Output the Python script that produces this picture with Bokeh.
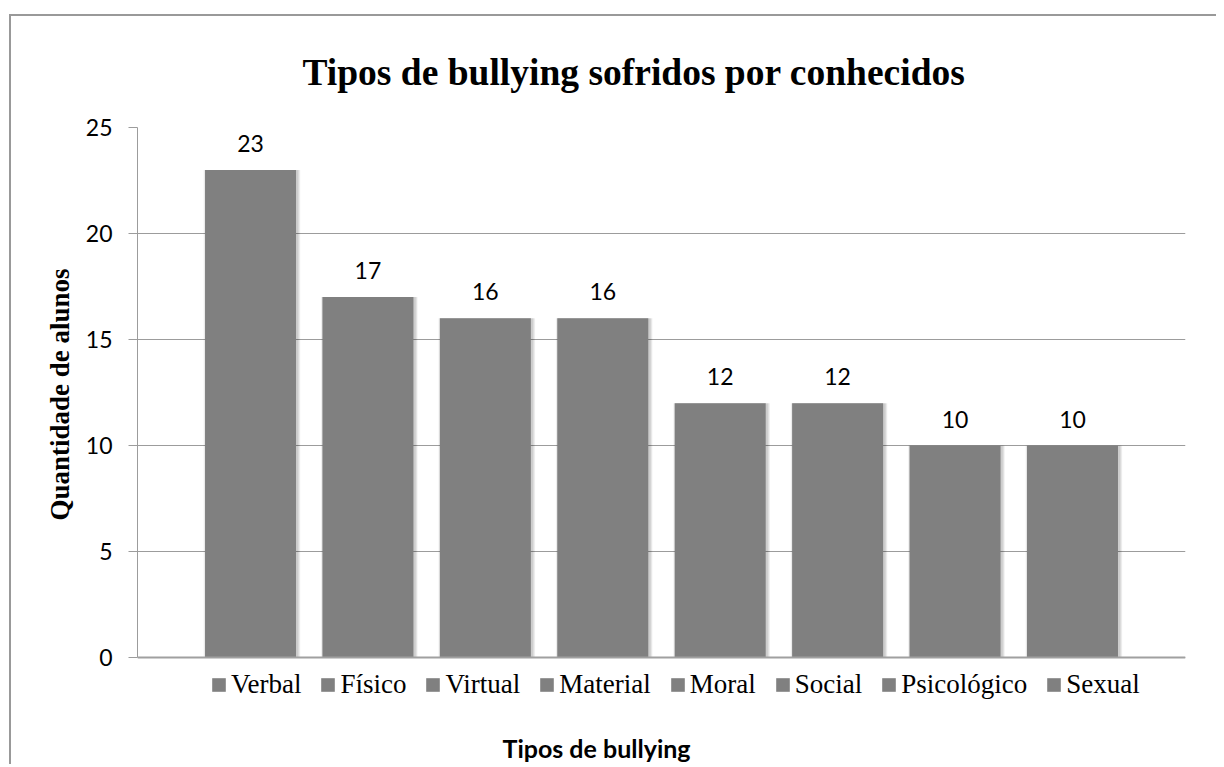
from bokeh.plotting import figure
from bokeh.models import (ColumnDataSource, FactorRange, LabelSet, Legend, LegendItem,
                          Title, FixedTicker, Span)
from bokeh.core.properties import value
from bokeh.transform import dodge
from bokeh.embed import file_html
from bokeh.resources import INLINE

categories = ["Verbal", "Físico", "Virtual", "Material", "Moral", "Social", "Psicológico", "Sexual"]
values = [23, 17, 16, 16, 12, 12, 10, 10]
y_ticks = [0, 5, 10, 15, 20, 25]
title_text = "Tipos de bullying sofridos por conhecidos"
y_title = "Quantidade de alunos"
x_title = "Tipos de bullying"

BAR = "#808080"
GRID = "#9c9c9c"
SERIF = "Liberation Serif"
SANS = "Lato"
BAR_W = 0.775

src = ColumnDataSource(dict(cat=categories, val=values, lbl=[str(v) for v in values]))

# the frame runs below zero to hold the legend; axis and grid stop at zero
p = figure(width=1207, height=750, output_backend="svg", toolbar_location=None,
           x_range=FactorRange(factors=categories, range_padding=0.4625,
                               range_padding_units="absolute"),
           y_range=(-3.44, y_ticks[-1]), title=None)
p.styles = {"border-left": "2px solid #999999", "border-top": "2px solid #999999",
            "position": "relative", "left": "9px", "top": "14px"}

p.min_border_left = 126
p.min_border_right = 33
p.min_border_top = 111
p.min_border_bottom = 36
p.outline_line_color = None
p.background_fill_color = "white"
p.border_fill_color = "white"

p.xgrid.grid_line_color = None
p.ygrid.grid_line_color = GRID
p.ygrid.ticker = FixedTicker(ticks=y_ticks)

# soft shadow behind the bars
for k in range(1, 5):
    p.vbar(x=dodge("cat", 0.012, range=p.x_range), top="val", width=BAR_W + 0.012 * k,
           source=src, fill_color="black", fill_alpha=0.05, line_color=None)

r = p.vbar(x="cat", top="val", width=BAR_W, source=src, fill_color=BAR, line_color=None)

labels = LabelSet(x="cat", y="val", text="lbl", source=src, text_align="center",
                  text_baseline="bottom", y_offset=18, text_font=value(SANS),
                  text_font_size="23px", text_color="black")
p.add_layout(labels)

# y axis
ya = p.yaxis[0]
ya.ticker = FixedTicker(ticks=y_ticks)
ya.bounds = (y_ticks[0], y_ticks[-1])
ya.major_label_text_font = SANS
ya.major_label_text_font_size = "23px"
ya.major_label_text_color = "black"
ya.major_label_standoff = 16
ya.major_tick_out = 9
ya.major_tick_in = 0
ya.minor_tick_out = 0
ya.minor_tick_in = 0
ya.axis_line_color = GRID
ya.major_tick_line_color = GRID

yt = Title(text=y_title, align="right", offset=141, text_font=SERIF, text_color="black",
           text_font_style="bold", text_font_size="27px", standoff=16)
p.add_layout(yt, "left")

# x axis: only the base line is shown
p.xaxis.visible = False
p.add_layout(Span(location=y_ticks[0], dimension="width", line_color="#a0a0a0", line_width=2))

# title above
t = Title(text=title_text, align="left", offset=165, text_font=SERIF, text_color="black",
          text_font_style="bold", text_font_size="37.5px", standoff=66, vertical_align="top")
p.add_layout(t, "above")

# legend inside the lower part of the frame
items = [LegendItem(label=c, renderers=[r], index=i) for i, c in enumerate(categories)]
leg = Legend(items=items, orientation="horizontal", location=(73, 30), nrows=1,
             label_text_font=SERIF, label_text_font_size="27px", label_text_color="black",
             glyph_width=17, glyph_height=17, label_standoff=4, spacing=18,
             margin=0, padding=4, border_line_color=None, background_fill_alpha=0)
p.add_layout(leg)

xt = Title(text=x_title, align="left", offset=365, text_font=SANS, text_color="black",
           text_font_style="bold", text_font_size="25px", standoff=4, vertical_align="top")
p.add_layout(xt, "below")

open("out.html", "w").write(file_html(p, INLINE))
